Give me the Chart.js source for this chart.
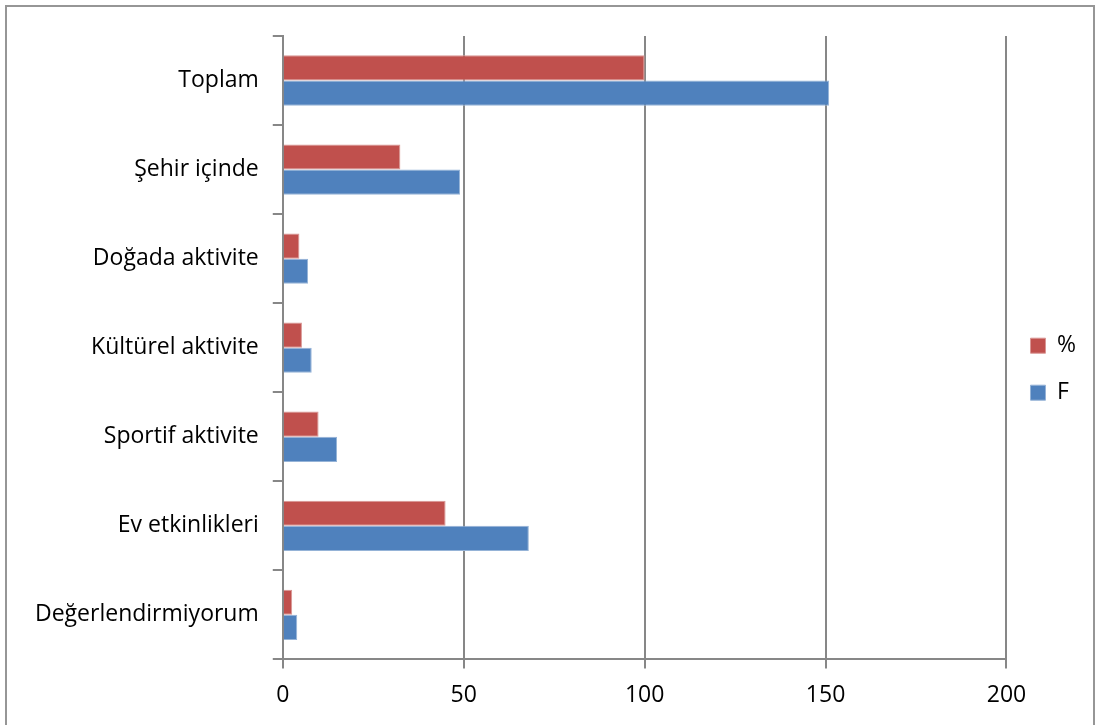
<!DOCTYPE html>
<html>
<head>
<meta charset="utf-8">
<script src="https://cdn.jsdelivr.net/npm/chart.js@4"></script>
<style>
  body { margin: 0; background: #fff; }
  #frame {
    position: absolute; left: 5px; top: 5px; width: 1090px; height: 730px;
    border: 2px solid #969696; box-sizing: border-box;
  }
  #wrap { position: absolute; left: 0; top: 0; width: 1098px; height: 725px; }
</style>
</head>
<body>
<div id="frame"></div>
<div id="wrap"><canvas id="chart"></canvas></div>
<script>
const categories = [
  "Toplam",
  "Şehir içinde",
  "Doğada aktivite",
  "Kültürel aktivite",
  "Sportif aktivite",
  "Ev etkinlikleri",
  "Değerlendirmiyorum",
];
const percentValues = [100, 32.5, 4.6, 5.3, 9.9, 45.0, 2.6]; // %
const freqValues = [151, 49, 7, 8, 15, 68, 4]; // F
const xTicks = [0, 50, 100, 150, 200];

const font = { family: "'Open Sans', sans-serif", size: 23 };
const axisGrey = "#878787";

new Chart(document.getElementById("chart"), {
  type: "bar",
  data: {
    labels: categories,
    datasets: [
      {
        label: "%",
        data: percentValues,
        backgroundColor: "#C0504D",
        borderColor: "#D99694",
        borderWidth: 1,
      },
      {
        label: "F",
        data: freqValues,
        backgroundColor: "#4F81BD",
        borderColor: "#95B3D7",
        borderWidth: 1,
      },
    ],
  },
  options: {
    indexAxis: "y",
    responsive: true,
    maintainAspectRatio: false,
    animation: false,
    datasets: {
      bar: { categoryPercentage: 0.565, barPercentage: 1 },
    },
    layout: { padding: { left: 21, top: 36, right: 12, bottom: 3 } },
    scales: {
      x: {
        min: 0,
        max: 200,
        afterBuildTicks: (axis) => {
          axis.ticks = xTicks.map((v) => ({ value: v }));
        },
        ticks: { color: "#000", font: font, padding: 13 },
        grid: { color: axisGrey, lineWidth: 2, tickLength: 9 },
        border: { color: axisGrey, width: 2 },
      },
      y: {
        ticks: { color: "#000", font: font, padding: 14 },
        grid: {
          offset: true,
          drawOnChartArea: false,
          color: axisGrey,
          lineWidth: 2,
          tickLength: 10,
        },
        border: { color: axisGrey, width: 2 },
      },
    },
    plugins: {
      legend: {
        position: "right",
        align: "center",
        fullSize: false,
        // empty title used only as a spacer to push the items down a bit
        title: {
          display: true,
          text: " ",
          font: { size: 10 },
          padding: { top: 15, bottom: 16 },
        },
        labels: {
          boxWidth: 15,
          boxHeight: 15,
          padding: 24,
          color: "#000",
          font: font,
        },
      },
      tooltip: { enabled: false },
    },
  },
});
</script>
</body>
</html>
